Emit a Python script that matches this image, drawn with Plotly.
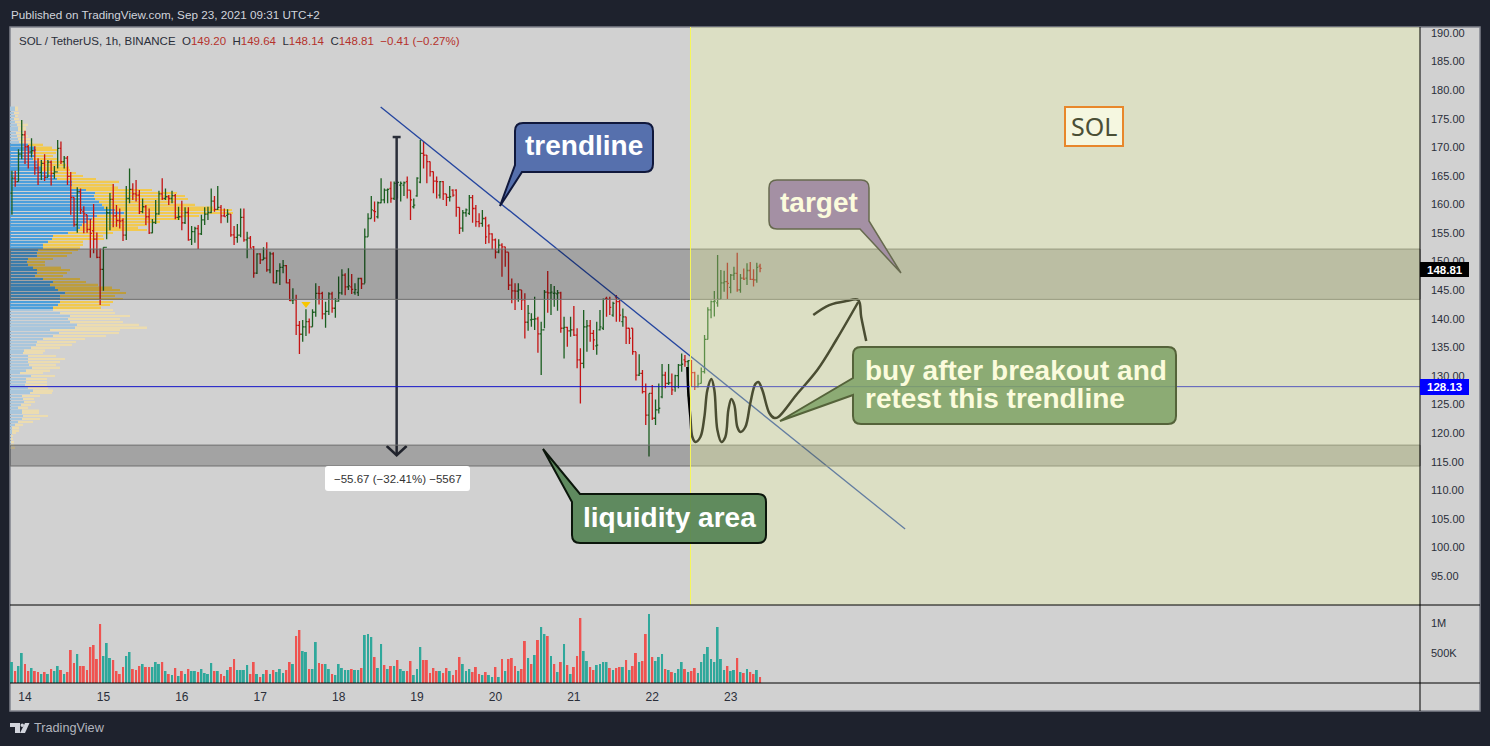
import pandas as pd
import plotly.graph_objects as go

# Constants
COLOR_DARK = '#1e222d'
COLOR_PANEL = '#d1d1d1'
COLOR_TEXT = '#2a2e39'
COLOR_UP = '#1b5e20'
COLOR_DOWN = '#c41414'
FONT = 'Liberation Sans'
FIG_W, FIG_H = 1490, 746
PLOT_L, PLOT_R, PLOT_T, PLOT_B = 10, 1420, 27, 683
PANE_SPLIT = 605

# Hourly SOL/USDT bars, Sep 13 20:00 to Sep 23 09:00
OPEN = [
    162.0,164.6,164.0,168.8,172.2,170.1,169.2,169.4,166.4,165.6,
    167.2,164.75,167.4,165.45,165.7,169.8,167.5,168.1,164.9,161.25,
    156.5,162.25,158.75,158.2,155.65,155.4,153.95,150.75,148.65,152.5,
    158.55,160.9,158.0,157.2,157.2,154.65,161.05,162.65,161.85,161.65,
    158.75,159.6,157.85,155.05,156.85,158.35,161.85,161.05,161.35,161.05,
    161.55,157.75,157.85,156.8,158.6,153.9,155.25,155.8,154.85,157.3,
    158.3,158.6,160.6,159.15,159.5,158.0,158.1,158.3,154.7,154.25,
    154.65,157.75,153.8,154.1,152.6,148.0,151.35,150.3,150.6,148.55,
    151.35,146.3,148.4,149.0,149.3,146.3,143.2,143.3,138.85,137.3,
    138.6,139.5,138.6,141.15,144.45,144.45,140.85,141.3,144.35,141.85,
    143.1,144.55,147.65,145.6,145.6,144.6,144.6,147.05,
    146.1,154.35,157.55,158.9,157.85,160.3,160.8,162.5,162.8,161.05,
    163.7,163.4,163.4,164.0,162.5,159.6,161.5,163.9,168.95,168.65,
    167.5,165.75,164.1,161.65,164.0,161.85,161.25,162.5,162.5,159.5,
    155.85,158.55,158.45,161.2,159.3,157.0,156.7,157.55,156.25,154.85,
    153.8,151.65,152.9,152.6,151.65,145.9,144.9,144.85,145.05,143.3,
    139.4,139.8,139.9,140.0,137.35,138.05,144.65,144.55,144.45,144.35,
    144.55,138.35,138.5,137.9,138.05,137.15,132.8,132.2,138.6,138.75,
    137.45,135.25,138.05,138.35,143.55,143.4,140.65,143.85,143.0,139.5,
    140.35,138.35,138.35,134.25,130.15,130.45,127.25,123.15,126.95,122.6,
    124.05,126.35,130.15,128.7,128.8,128.1,130.05,131.9,132.8,132.5,
    132.7,
    130.6,128.15,128.7,130.75,136.4,141.55,143.0,142.8,143.4,146.3,146.5,
    145.5,147.65,147.95,145.05,147.1,147.1,148.45,146.9,146.8,149.2,
]
HIGH = [
    165.9,165.9,169.65,174.8,172.9,170.4,171.6,170.2,168.1,167.8,
    168.8,167.8,167.7,166.75,171.3,171.0,168.5,168.5,165.7,161.25,
    163.0,162.8,159.7,158.2,157.45,160.1,155.1,152.3,152.5,159.6,
    162.0,163.6,159.9,159.3,157.6,163.25,166.3,163.7,164.3,162.55,
    161.05,159.9,159.3,157.45,160.8,162.4,164.6,162.8,161.65,162.4,
    161.85,159.6,160.65,159.5,159.5,156.25,156.1,156.4,158.2,159.5,
    159.6,162.8,161.5,163.25,159.9,159.3,159.15,158.35,156.25,156.6,
    159.3,159.3,155.25,154.5,152.75,151.45,151.45,152.5,153.4,151.75,
    151.65,148.55,149.7,150.3,149.4,146.95,145.35,144.2,139.6,139.8,
    141.65,140.05,141.65,146.2,145.75,144.75,143.0,144.65,144.75,143.6,
    147.4,148.65,147.95,148.85,147.85,146.2,147.2,147.2,
    155.8,158.45,161.5,160.5,160.5,164.6,162.8,162.8,164.0,164.0,
    164.0,164.0,164.0,164.9,162.5,161.05,164.75,171.3,171.0,168.65,
    167.5,165.75,164.9,164.1,164.1,161.85,163.25,162.65,162.65,159.5,
    159.05,159.3,161.65,161.65,159.9,158.45,159.05,157.85,156.55,154.95,
    154.05,153.9,153.2,152.6,151.65,147.05,146.2,146.2,145.05,144.45,
    142.4,140.95,143.85,140.35,139.5,145.05,148.35,146.1,145.75,145.05,
    144.75,140.35,138.6,140.35,142.25,138.35,134.85,141.55,139.8,139.8,
    138.05,139.5,141.55,143.55,143.85,143.85,143.0,144.15,143.3,141.8,
    140.35,138.35,138.35,134.25,133.8,131.05,128.7,126.95,128.4,125.9,
    128.7,132.1,130.75,132.1,130.45,130.2,132.1,133.95,133.65,132.8,
    132.8,
    130.75,130.2,131.5,137.15,142.0,143.2,144.85,151.15,148.55,148.4,149.8,
    147.85,149.1,151.55,147.85,148.8,149.7,149.95,148.65,149.8,149.64,
]
LOW = [
    158.2,163.1,164.0,167.9,167.1,166.3,168.2,165.2,163.4,164.3,
    164.1,164.75,163.3,164.5,166.3,167.1,166.3,163.4,158.2,156.1,
    155.05,158.35,154.95,155.05,150.7,151.45,150.6,142.4,144.9,153.9,
    155.5,156.0,156.1,155.8,153.6,153.8,160.2,160.8,160.5,158.35,
    158.45,156.4,154.85,154.95,156.6,158.2,160.8,160.8,159.9,160.2,
    157.4,157.3,155.5,156.6,153.65,152.9,153.3,152.2,154.65,156.4,
    157.3,158.45,158.75,159.05,156.7,157.85,156.8,154.35,152.9,153.3,
    154.25,153.5,150.6,152.3,147.2,147.85,149.6,150.3,148.25,147.95,
    146.2,146.2,145.9,147.95,146.2,143.1,142.6,137.15,133.85,136.0,
    137.0,137.45,138.6,140.35,142.5,139.9,138.45,140.65,141.05,140.2,
    143.0,144.2,144.1,145.05,144.35,144.2,144.0,145.2,
    146.2,154.35,157.55,157.0,157.55,160.2,160.2,160.2,160.3,160.8,
    161.05,160.5,161.5,161.05,157.3,159.3,161.35,163.7,166.3,163.7,
    164.9,161.95,161.05,161.05,160.8,159.75,160.5,161.35,157.85,154.85,
    155.25,157.85,158.15,156.8,156.1,156.0,156.1,153.1,153.2,152.15,
    150.55,151.45,147.35,149.1,145.05,142.7,141.55,143.0,141.55,136.55,
    137.9,138.6,138.05,134.05,130.15,138.35,141.05,140.65,142.1,141.4,
    137.55,133.05,135.1,136.85,137.0,131.35,125.2,131.35,134.25,136.0,
    134.55,133.7,137.95,138.05,140.35,140.65,140.35,139.5,139.5,138.6,
    135.6,135.6,133.7,129.2,130.0,126.95,121.4,115.9,122.3,121.4,
    123.45,126.1,127.85,128.4,126.65,127.25,127.85,130.75,131.6,126.4,
    128.1,
    127.55,128.0,128.7,130.45,136.4,140.1,140.4,142.1,143.45,144.75,143.45,
    144.45,146.8,144.75,144.55,146.8,145.9,146.8,145.65,146.3,148.14,
]
CLOSE = [
    164.6,164.0,168.8,172.2,170.1,169.2,169.4,166.4,165.6,167.2,
    164.75,167.4,165.45,165.7,169.8,167.5,168.1,164.9,161.25,156.5,
    162.25,159.05,158.35,155.65,154.95,153.95,150.75,148.65,152.5,158.55,
    160.9,158.0,157.2,157.1,154.65,161.05,162.65,161.85,161.65,158.75,
    159.6,157.85,155.05,156.85,158.35,161.85,161.05,161.35,161.05,161.55,
    157.75,157.85,156.8,158.6,153.8,155.25,155.8,154.85,157.3,158.3,
    158.6,160.6,159.15,159.5,158.0,157.9,158.3,154.7,154.25,154.65,
    157.75,153.8,154.1,152.35,148.0,151.35,150.3,150.6,148.55,151.35,
    146.3,148.4,149.0,149.3,146.3,143.2,143.3,138.85,137.3,138.6,
    139.5,138.6,141.15,144.45,144.4,140.85,141.3,144.35,141.85,143.1,
    144.55,147.65,145.6,145.75,145.15,145.1,147.05,146.1,
    154.35,157.55,159.05,158.75,160.3,160.8,162.5,162.65,161.05,163.7,
    163.85,163.7,163.8,162.5,160.8,159.9,164.6,168.95,168.65,167.5,
    165.75,164.1,164.0,164.0,161.85,161.25,161.35,161.65,159.5,155.85,
    158.55,159.05,161.2,159.3,157.0,156.7,157.55,154.35,154.85,153.8,
    151.65,152.9,152.6,151.65,145.9,144.9,144.85,145.05,143.3,139.4,
    140.95,139.9,140.0,137.35,138.05,144.65,144.55,144.65,144.5,144.55,
    138.35,138.5,137.9,138.05,137.15,132.8,132.2,138.6,138.75,137.45,
    136.3,135.4,138.6,143.4,143.45,142.0,142.7,143.0,140.65,140.35,
    138.35,136.6,134.25,130.15,130.45,127.25,123.15,126.95,122.6,124.05,
    124.35,130.15,128.7,128.8,127.55,130.05,131.9,132.05,132.5,132.7,
    130.6,
    128.15,128.6,130.75,136.4,141.55,143.0,143.1,143.4,146.3,146.5,146.2,
    147.65,147.95,145.05,147.1,146.95,148.45,146.9,146.8,149.0,148.81,
]

# Volume in thousands, T = teal bar, R = red bar
VOLUME = [
    350,200,283,500,317,200,250,200,183,150,
    183,150,233,200,283,217,150,183,550,333,
    483,283,283,217,600,633,400,983,450,667,
    417,383,200,150,267,450,517,233,217,283,
    317,267,267,267,350,317,350,200,150,133,
    250,117,200,150,233,200,200,183,233,167,
    150,333,200,200,150,117,217,267,400,217,
    217,217,300,150,350,150,100,150,217,150,
    217,183,233,167,217,350,317,783,883,533,
    517,233,233,683,333,317,317,233,150,133,
    317,250,217,217,233,217,217,250,800,817,
    767,433,250,650,300,233,283,283,383,233,
    200,200,367,133,233,600,383,383,167,250,
    200,200,167,250,200,133,217,433,317,200,
    233,183,267,150,133,183,133,100,267,100,
    400,200,400,417,283,200,233,700,417,317,
    467,717,933,817,783,450,317,183,350,650,
    300,150,267,450,1083,533,367,267,217,300,
    317,350,350,250,217,250,267,267,383,217,
    283,500,350,367,817,1150,433,367,433,483,
    233,217,183,167,233,350,233,183,200,250,
    167,350,483,600,400,350,933,400,217,283,
    200,217,417,183,167,233,183,150,217,100,
]
VOLUME_SIDE = (
    'TRTTRRTRRT' 'RTRTTRTRRR' 'TRRRRRRRTT' 'TRRRRTTRRR' 'TRRTTTRTRT'
    'RTRTRTTRTT' 'TTRTRRTRRT' 'TTTRRTRTRT' 'RTTTRRTRRT' 'TRTTRRTTRT'
    'TTTTRTTRTT' 'TRTTRTRTRT' 'TRRTTTRRRR' 'RTRRTRRRTT' 'TRRRTRTTRT'
    'RTRRRTRRTR' 'TRTTRTRTRT' 'RTRRRTTRRT' 'TTTRTRRTRT' 'RRTRRTRTTT'
    'RTRTTTRTRR' 'TTTTTTTTTR' 'TTRTRTRRTR'
)

# Volume profile, rows 0.5 apart, lengths in axis units
VP_LEVELS = [
    177.0,176.5,176.0,175.5,175.0,174.5,174.0,173.5,173.0,172.5,
    172.0,171.5,171.0,170.5,170.0,169.5,169.0,168.5,168.0,167.5,
    167.0,166.5,166.0,165.5,165.0,164.5,164.0,163.5,163.0,162.5,
    162.0,161.5,161.0,160.5,160.0,159.5,159.0,158.5,158.0,157.5,
    157.0,156.5,156.0,155.5,155.0,154.5,154.0,153.5,153.0,152.5,
    152.0,151.5,151.0,150.5,150.0,149.5,149.0,148.5,148.0,147.5,
    147.0,146.5,146.0,145.5,145.0,144.5,144.0,143.5,143.0,142.5,
    142.0,141.5,141.0,140.5,140.0,139.5,139.0,138.5,138.0,137.5,
    137.0,136.5,136.0,135.5,135.0,134.5,134.0,133.5,133.0,132.5,
    132.0,131.5,131.0,130.5,130.0,129.5,129.0,128.5,128.0,127.5,
    127.0,126.5,126.0,125.5,125.0,124.5,124.0,123.5,123.0,122.5,
    122.0,121.5,121.0,120.5,120.0,119.5,119.0,118.5,118.0,117.5,
]
VP_BLUE = [
    5,5,4,5,4,5,7,8,8,6,
    7,8,9,18,25,26,23,25,23,27,
    28,32,32,37,45,47,62,62,60,76,
    85,84,85,89,92,94,105,114,87,82,
    77,72,70,67,58,43,42,38,33,33,
    28,27,27,18,17,18,23,27,27,25,
    33,43,40,45,48,55,50,50,50,48,
    43,43,50,60,58,60,67,65,40,49,
    43,33,27,26,21,14,13,18,18,18,
    19,22,16,10,21,16,16,15,18,23,
    20,12,13,14,11,8,12,12,13,12,
    8,5,2,2,2,1,1,1,1,1,
]
VP_YELLOW = [
    3,3,5,3,5,8,11,8,8,9,
    11,12,14,15,17,21,23,18,25,27,
    28,27,28,29,28,39,47,42,48,66,
    82,91,93,76,93,109,117,109,102,88,
    73,65,58,70,45,50,52,35,40,37,
    40,35,30,25,18,17,28,33,30,28,
    37,33,48,57,62,61,55,63,53,52,
    48,60,55,60,52,53,62,72,70,60,
    53,42,39,36,29,21,20,28,37,32,
    27,28,24,23,24,21,21,22,20,20,
    22,18,11,11,10,10,17,17,25,18,
    15,8,7,7,4,2,2,3,3,4,
]
VA_HIGH, VA_LOW = 170.5, 142.0

# Chart furniture
PRICE_TICKS = [95,100,105,110,115,120,125,130,135,140,145,150,155,160,165,170,175,180,185,190]
DAY_TICKS = ['2021-09-%02d' % d for d in range(14, 24)]
DAY_LABELS = ['14','15','16','17','18','19','20','21','22','23']
VOLUME_TICKS = [500, 1000]
VOLUME_LABELS = ['500K', '1M']
RESISTANCE_ZONE = (143.4, 152.2)
LIQUIDITY_ZONE = (114.25, 117.9)
BREAK_LEVEL = 128.13
LAST_CLOSE = 148.81

# Drawings, hours after Sep 14 00:00 and price
TREND_HOURS = [108.87, 269.4]
TREND_PRICE = [177.05, 103.23]
SKETCH_HOURS = [202.75,203.05,203.67,204.28,205.2,206.73,207.95,208.87,210.09,211.0,
                211.93,213.15,214.37,215.29,216.2,217.13,218.04,218.96,220.49,222.02,
                223.55,224.46,225.69,227.83,229.36,230.58,236.08,242.51,248.31,255.05]
SKETCH_PRICE = [131.57,127.02,122.82,119.32,118.45,119.32,122.82,127.54,129.47,127.54,
                120.55,118.45,119.32,124.04,125.97,124.92,121.07,120.2,121.07,125.27,
                128.59,128.94,127.54,123.52,122.65,122.82,126.67,131.04,136.29,142.94]
HEAD_HOURS = [241.28, 246.18, 251.38, 255.05, 255.96, 257.49]
HEAD_PRICE = [140.67, 142.41, 143.11, 143.29, 140.32, 136.12]
MEASURE_HOURS = [112.54, 114.98, None, 113.76, 113.76, None, 110.7, 113.76, 116.82]
MEASURE_PRICE = [171.8, 171.8, None, 171.8, 116.13, None, 117.75, 116.13, 117.75]
MARKER_HOUR, MARKER_PRICE = 86, 142.6
FUTURE_START_HOUR = 203.7

DAY0 = pd.Timestamp('2021-09-14')
PX_PER_HOUR = 3.267
PRICE_TOP, PRICE_BOTTOM = 191.05, 89.93
VOLUME_TOP = 1300


def hour_to_date(hours):
    return [None if h is None else DAY0 + pd.Timedelta(hours=h) for h in hours]


def fx(px):
    return (px - PLOT_L) / (PLOT_R - PLOT_L)


def fy(py):
    return (PLOT_B - py) / (PLOT_B - PLOT_T)


def rounded_path(points):
    # points are (x, y, radius) in pixels
    n = len(points)
    path = ''
    for i, (x, y, r) in enumerate(points):
        if r == 0:
            path += ('M' if i == 0 else 'L') + f' {fx(x):.5f},{fy(y):.5f} '
            continue
        px0, py0, _ = points[i - 1]
        nx, ny, _ = points[(i + 1) % n]
        d0 = ((px0 - x) ** 2 + (py0 - y) ** 2) ** 0.5
        d1 = ((nx - x) ** 2 + (ny - y) ** 2) ** 0.5
        ax, ay = x + (px0 - x) * r / d0, y + (py0 - y) * r / d0
        bx, by = x + (nx - x) * r / d1, y + (ny - y) * r / d1
        path += ('M' if i == 0 else 'L') + f' {fx(ax):.5f},{fy(ay):.5f} '
        path += f'Q {fx(x):.5f},{fy(y):.5f} {fx(bx):.5f},{fy(by):.5f} '
    return path + 'Z'


def callout(points, fill, border, width=1.5):
    return dict(type='path', xref='paper', yref='paper', path=rounded_path(points),
                fillcolor=fill, line=dict(color=border, width=width), layer='above')


def paper_rect(x0, y0, x1, y1, fill, border=None, width=0, layer='above'):
    return dict(type='rect', xref='paper', yref='paper', x0=fx(x0), x1=fx(x1), y0=fy(y1), y1=fy(y0),
                fillcolor=fill, line=dict(color=border, width=width) if border else dict(width=0), layer=layer)


def paper_line(x0, y0, x1, y1, color='black', width=1):
    return dict(type='line', xref='paper', yref='paper', x0=fx(x0), x1=fx(x1), y0=fy(y0), y1=fy(y1),
                line=dict(color=color, width=width), layer='above')


def label(x, y, text, size, color, anchor='left', family=FONT):
    return dict(xref='paper', yref='paper', x=fx(x), y=fy(y), text=text, showarrow=False,
                xanchor=anchor, yanchor='middle', align='left', borderpad=0,
                font=dict(family=family, size=size, color=color))


times = pd.date_range('2021-09-13 20:00', periods=len(CLOSE), freq='1h')
x_start = DAY0 + pd.Timedelta(hours=(PLOT_L - 25) / PX_PER_HOUR)
x_end = DAY0 + pd.Timedelta(hours=(PLOT_R - 25) / PX_PER_HOUR)
x_range = [x_start, x_end]
future_start = DAY0 + pd.Timedelta(hours=FUTURE_START_HOUR)
split = (PLOT_B - PANE_SPLIT) / (PLOT_B - PLOT_T)

fig = go.Figure()

# Volume profile lives on the base axes so that the bars are drawn over it
blue_colors = ['#4c9fdc' if VA_LOW <= p <= VA_HIGH else '#a9c6dc' for p in VP_LEVELS]
yellow_colors = ['#f2c94f' if VA_LOW <= p <= VA_HIGH else '#ecdcb0' for p in VP_LEVELS]
fig.add_trace(go.Bar(x=VP_BLUE, y=VP_LEVELS, orientation='h', width=0.27, base=0,
                     marker=dict(color=blue_colors, line=dict(width=0)),
                     xaxis='x', yaxis='y', hoverinfo='skip'))
fig.add_trace(go.Bar(x=VP_YELLOW, y=VP_LEVELS, orientation='h', width=0.27, base=VP_BLUE,
                     marker=dict(color=yellow_colors, line=dict(width=0)),
                     xaxis='x', yaxis='y', hoverinfo='skip'))

fig.add_trace(go.Ohlc(x=times, open=OPEN, high=HIGH, low=LOW, close=CLOSE, tickwidth=0.45,
                      increasing=dict(line=dict(color=COLOR_UP, width=1.3)),
                      decreasing=dict(line=dict(color=COLOR_DOWN, width=1.3)),
                      xaxis='x2', yaxis='y', hoverinfo='skip'))

fig.add_trace(go.Scatter(x=hour_to_date(TREND_HOURS), y=TREND_PRICE, mode='lines',
                         line=dict(color='#24459f', width=1.3), xaxis='x2', yaxis='y', hoverinfo='skip'))
fig.add_trace(go.Scatter(x=hour_to_date(MEASURE_HOURS), y=MEASURE_PRICE, mode='lines',
                         line=dict(color=COLOR_TEXT, width=2.5), xaxis='x2', yaxis='y', hoverinfo='skip'))
fig.add_trace(go.Scatter(x=hour_to_date(SKETCH_HOURS), y=SKETCH_PRICE, mode='lines',
                         line=dict(color='black', width=2.5, shape='spline'),
                         xaxis='x2', yaxis='y', hoverinfo='skip'))
fig.add_trace(go.Scatter(x=hour_to_date(HEAD_HOURS), y=HEAD_PRICE, mode='lines',
                         line=dict(color='black', width=2.5, shape='spline'),
                         xaxis='x2', yaxis='y', hoverinfo='skip'))
fig.add_trace(go.Scatter(x=hour_to_date([MARKER_HOUR]), y=[MARKER_PRICE], mode='markers',
                         marker=dict(symbol='triangle-down', size=8, color='#f7c600'),
                         xaxis='x2', yaxis='y', hoverinfo='skip'))

fig.add_trace(go.Bar(x=times, y=VOLUME, width=2160000,
                     marker=dict(color=['#2fa89b' if s == 'T' else '#ef5350' for s in VOLUME_SIDE],
                                 line=dict(width=0)),
                     xaxis='x3', yaxis='y2', hoverinfo='skip'))

shapes = [
    paper_rect(10, 27, 1480, 711, COLOR_PANEL, '#80838c', 1.5, layer='below'),
]
for low, high in (RESISTANCE_ZONE, LIQUIDITY_ZONE):
    shapes.append(dict(type='rect', xref='paper', yref='y', x0=0, x1=1, y0=low, y1=high,
                       fillcolor='rgba(0,0,0,0.22)', line=dict(color='#6f6f6f', width=1), layer='above'))
shapes += [
    callout([(515,123,8),(653,123,8),(653,172,8),(522,172,0),(500,206,0),(515,165,0)], '#5670ad', '#10183c', 2),
    callout([(769,180,8),(869,180,8),(869,221,0),(901,273,0),(860,229,0),(769,229,8)], '#8161a4', '#2a2a2a'),
    dict(type='line', xref='paper', yref='y', x0=0, x1=1, y0=BREAK_LEVEL, y1=BREAK_LEVEL,
         line=dict(color='#1414c8', width=1), layer='above'),
    # the shaded projection sits over everything drawn before it
    dict(type='rect', xref='x2', yref='y', x0=future_start, x1=x_end, y0=PRICE_BOTTOM, y1=PRICE_TOP,
         fillcolor='rgba(246,254,165,0.3)', line=dict(width=0), layer='above'),
    dict(type='line', xref='x2', yref='y', x0=future_start, x1=future_start, y0=PRICE_BOTTOM, y1=PRICE_TOP,
         line=dict(color='#f6f65a', width=1), layer='above'),
    paper_rect(1065, 107, 1123, 146, '#f5f7e0', '#e8872b', 2),
    callout([(853,347,8),(1176,347,8),(1176,424,8),(853,424,8),(853,395,0),(780,421,0),(853,378,0)],
            'rgba(126,162,102,0.85)', '#55633a', 2),
    paper_line(10, PANE_SPLIT, 1480, PANE_SPLIT),
    paper_line(10, PLOT_B, 1480, PLOT_B),
    paper_line(1420, 27, 1420, 711),
    callout([(325,466,3),(470,466,3),(470,491,3),(325,491,3)], 'white', 'white', 0),
    callout([(580,494,0),(766,494,8),(766,543,8),(572,543,8),(572,502,0),(543,449,0)],
            'rgba(82,130,82,0.9)', '#0b160b', 2),
    paper_rect(1420, 262, 1469, 277, 'black'),
    paper_rect(1420, 379, 1469, 395, '#0000ff'),
    # logo glyph
    dict(type='path', xref='paper', yref='paper', fillcolor='#d1d4dc', line=dict(width=0), layer='above',
         path=rounded_path([(10,723,0),(20,723,0),(20,733,0),(15,733,0),(15,727,0),(10,727,0)])),
    dict(type='circle', xref='paper', yref='paper', fillcolor='#d1d4dc', line=dict(width=0), layer='above',
         x0=fx(20.5), x1=fx(24), y0=fy(727), y1=fy(723.5)),
    dict(type='path', xref='paper', yref='paper', fillcolor='#d1d4dc', line=dict(width=0), layer='above',
         path=rounded_path([(25,723,0),(29.5,723,0),(25,733,0),(20,733,0)])),
]

red = '#b5312c'
ohlc_text = (f'SOL / TetherUS, 1h, BINANCE\u00a0\u00a0O<span style="color:{red}">149.20</span>'
             f'\u00a0\u00a0H<span style="color:{red}">149.64</span>'
             f'\u00a0\u00a0L<span style="color:{red}">148.14</span>'
             f'\u00a0\u00a0C<span style="color:{red}">148.81</span>'
             f'\u00a0\u00a0<span style="color:{red}">\u22120.41 (\u22120.27%)</span>')
annotations = [
    label(10, 14, 'Published on TradingView.com, Sep 23, 2021 09:31 UTC+2', 11.7, '#d1d4dc'),
    label(18, 41, ohlc_text, 11.5, COLOR_TEXT),
    label(33, 728, 'TradingView', 12.7, '#b2b5be'),
    label(397.5, 478.5, '\u221255.67 (\u221232.41%) \u22125567', 11.5, '#333333', anchor='center'),
    label(584, 145, '<b>trendline</b>', 28, 'white', anchor='center'),
    label(819, 202.5, '<b>target</b>', 28, '#fbfbdc', anchor='center'),
    label(864, 370, '<b>buy after breakout and</b>', 28, '#fbfbdc'),
    label(864, 398, '<b>retest this trendline</b>', 28, '#fbfbdc'),
    label(669, 517, '<b>liquidity area</b>', 28, 'white', anchor='center'),
    label(1094, 126, 'SOL', 25, '#4a4f35', anchor='center', family='Noto Sans'),
    label(1444.5, 269.5, f'<b>{LAST_CLOSE:.2f}</b>', 11.5, 'white', anchor='center'),
    label(1444.5, 387, f'<b>{BREAK_LEVEL:.2f}</b>', 11.5, 'white', anchor='center'),
]

fig.update_layout(
    width=FIG_W, height=FIG_H, showlegend=False, barmode='overlay',
    margin=dict(l=PLOT_L, r=FIG_W - PLOT_R, t=PLOT_T, b=FIG_H - PLOT_B, pad=0, autoexpand=False),
    paper_bgcolor=COLOR_DARK, plot_bgcolor='rgba(0,0,0,0)',
    font=dict(family=FONT, color=COLOR_TEXT),
    shapes=shapes, annotations=annotations,
    xaxis=dict(range=[0, PLOT_R - PLOT_L], visible=False, anchor='y', fixedrange=True),
    xaxis2=dict(range=x_range, type='date', overlaying='x', anchor='y', visible=False,
                rangeslider=dict(visible=False)),
    xaxis3=dict(range=x_range, type='date', anchor='y2', showgrid=False, zeroline=False,
                tickmode='array', tickvals=DAY_TICKS, ticktext=DAY_LABELS, ticks='',
                ticklabelstandoff=5, tickfont=dict(size=12, color=COLOR_TEXT),
                rangeslider=dict(visible=False)),
    yaxis=dict(domain=[split, 1], range=[PRICE_BOTTOM, PRICE_TOP], side='right', anchor='x',
               showgrid=False, zeroline=False, tickmode='array', tickvals=PRICE_TICKS,
               tickformat='.2f', ticks='', ticklabelstandoff=10, tickfont=dict(size=11, color=COLOR_TEXT)),
    yaxis2=dict(domain=[0, split], range=[0, VOLUME_TOP], side='right', anchor='x3',
                showgrid=False, zeroline=False, tickmode='array', tickvals=VOLUME_TICKS,
                ticktext=VOLUME_LABELS, ticks='', ticklabelstandoff=10, tickfont=dict(size=11, color=COLOR_TEXT)),
)

fig.write_html("out.html", config=dict(displayModeBar=False),
               post_script="document.body.style.margin='0';document.body.style.overflow='hidden';")
